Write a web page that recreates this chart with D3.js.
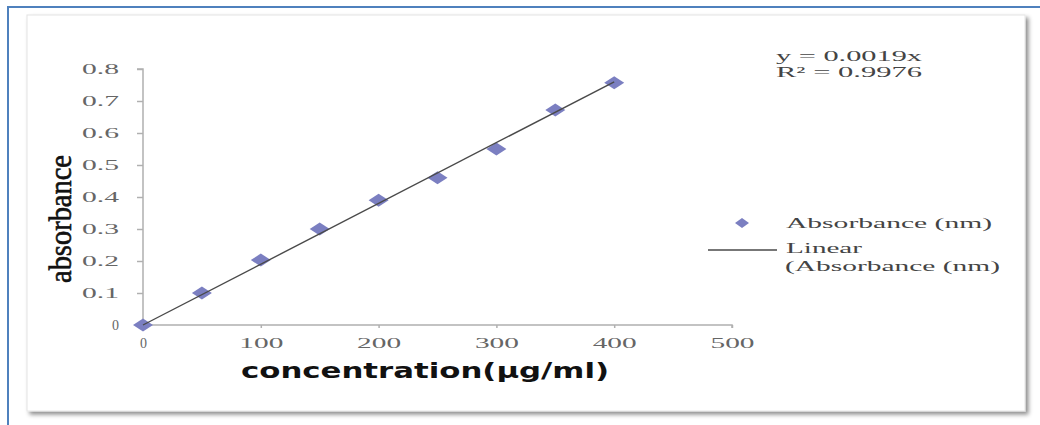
<!DOCTYPE html>
<html>
<head>
<meta charset="utf-8">
<script src="https://cdn.jsdelivr.net/npm/d3@7/dist/d3.min.js"></script>
<style>
  html, body { margin: 0; padding: 0; background: #fff; }
  svg { display: block; }
</style>
</head>
<body>
<svg id="chart" width="1040" height="425"></svg>
<script>
// Calibration data: concentration (µg/ml) vs absorbance
const concentration = [0, 50, 100, 150, 200, 250, 300, 350, 400];
const absorbance = [0, 0.10, 0.203, 0.30, 0.39, 0.46, 0.55, 0.672, 0.757];
const slope = 0.0019;          // linear fit through origin
const xTicks = [0, 100, 200, 300, 400, 500];
const yTicks = [0, 0.1, 0.2, 0.3, 0.4, 0.5, 0.6, 0.7, 0.8];
const equationLines = ["y = 0.0019x", "R\u00B2 = 0.9976"];
const legendLabels = ["Absorbance (nm)", "Linear", "(Absorbance (nm)"];

const svg = d3.select("#chart");

// Drop shadow for the chart panel
const defs = svg.append("defs");
const f = defs.append("filter").attr("id", "shadow")
  .attr("x", "-5%").attr("y", "-5%").attr("width", "110%").attr("height", "115%");
f.append("feDropShadow").attr("dx", 3).attr("dy", 3).attr("stdDeviation", 2)
  .attr("flood-color", "#000").attr("flood-opacity", 0.45);

// Outer frame (top and left edges)
svg.append("line").attr("x1", 8).attr("x2", 1040).attr("y1", 7).attr("y2", 7)
  .attr("stroke", "#4f81bd").attr("stroke-width", 2);
svg.append("line").attr("x1", 8).attr("x2", 8).attr("y1", 6).attr("y2", 425)
  .attr("stroke", "#4f81bd").attr("stroke-width", 2);

// Chart panel
svg.append("rect").attr("x", 27).attr("y", 15).attr("width", 998).attr("height", 396)
  .attr("fill", "#fff").attr("stroke", "#e4e4e4").attr("stroke-width", 1)
  .attr("filter", "url(#shadow)");

const x = d3.scaleLinear().domain([0, 500]).range([143, 732]);
const y = d3.scaleLinear().domain([0, 0.8]).range([325, 69]);

const axisColor = "#b0b0b0";
const tickColor = "#666";

// Y axis
const gy = svg.append("g").attr("transform", `translate(${x(0)},0)`)
  .call(d3.axisLeft(y).tickValues(yTicks).tickSize(6).tickPadding(18)
    .tickFormat(d => d === 0 ? "0" : d3.format(".1f")(d)));
gy.select(".domain").attr("stroke", axisColor).attr("stroke-width", 1.5)
  .attr("d", `M-6,${y(0.8)}H0V${y(0)}`);
gy.selectAll(".tick line").attr("stroke", axisColor).attr("stroke-width", 1.5);
gy.selectAll(".tick text")
  .attr("font-family", "Liberation Serif, serif").attr("font-size", 14)
  .attr("fill", tickColor)
  .each(function(d) {
    if (d !== 0) d3.select(this).attr("textLength", 37).attr("lengthAdjust", "spacingAndGlyphs");
  });

// X axis
const gx = svg.append("g").attr("transform", `translate(0,${y(0)})`)
  .call(d3.axisBottom(x).tickValues(xTicks).tickSize(3).tickPadding(10));
gx.select(".domain").attr("stroke", axisColor).attr("stroke-width", 1.5)
  .attr("d", `M${x(0)},0H${x(500)}V3`);
gx.selectAll(".tick line").attr("stroke", axisColor).attr("stroke-width", 1.5);
gx.selectAll(".tick text")
  .attr("font-family", "Liberation Serif, serif").attr("font-size", 14)
  .attr("fill", tickColor)
  .each(function(d) {
    if (d !== 0) d3.select(this).attr("textLength", 44).attr("lengthAdjust", "spacingAndGlyphs");
  });

// Axis titles
svg.append("text")
  .attr("transform", `translate(71,219) rotate(-90)`)
  .attr("text-anchor", "middle")
  .attr("font-family", "Liberation Serif, serif").attr("font-size", 31)
  .attr("font-weight", "normal").attr("fill", "#111")
  .attr("stroke", "#111").attr("stroke-width", 0.6)
  .attr("textLength", 128).attr("lengthAdjust", "spacingAndGlyphs")
  .text("absorbance");

svg.append("text")
  .attr("x", 425).attr("y", 378)
  .attr("text-anchor", "middle")
  .attr("font-family", "DejaVu Sans, sans-serif").attr("font-size", 21)
  .attr("font-weight", "bold").attr("fill", "#111")
  .attr("textLength", 368).attr("lengthAdjust", "spacingAndGlyphs")
  .text("concentration(\u00B5g/ml)");

// Data markers (flattened diamonds)
const markerColor = "#7b7fc1";
const diamond = "M-10,0L0,-6.5L10,0L0,6.5Z";
svg.append("g").selectAll("path").data(concentration).join("path")
  .attr("d", diamond)
  .attr("transform", (d, i) => `translate(${x(d)},${y(absorbance[i])})`)
  .attr("fill", markerColor);

// Linear trendline
const xmax = d3.max(concentration);
svg.append("path")
  .datum([0, xmax])
  .attr("d", d3.line().x(d => x(d)).y(d => y(slope * d)))
  .attr("stroke", "#4a4a4a").attr("stroke-width", 1.4).attr("fill", "none");

// Fit equation
const serif = "Liberation Serif, serif";
svg.append("g").selectAll("text").data(equationLines).join("text")
  .attr("x", 776).attr("y", (d, i) => 61 + i * 16)
  .attr("font-family", serif).attr("font-size", 14).attr("fill", "#444")
  .attr("textLength", 146).attr("lengthAdjust", "spacingAndGlyphs")
  .text(d => d);

// Legend
svg.append("path").attr("d", "M-7,0L0,-5L7,0L0,5Z")
  .attr("transform", "translate(742,223)").attr("fill", markerColor);
svg.append("line").attr("x1", 708).attr("x2", 777).attr("y1", 250).attr("y2", 250)
  .attr("stroke", "#4a4a4a").attr("stroke-width", 1.4);
const legendPos = [[786, 228, 206], [786, 253, 76], [785, 271, 215]];
svg.append("g").selectAll("text").data(legendLabels).join("text")
  .attr("x", (d, i) => legendPos[i][0]).attr("y", (d, i) => legendPos[i][1])
  .attr("font-family", serif).attr("font-size", 14).attr("fill", "#444")
  .attr("textLength", (d, i) => legendPos[i][2]).attr("lengthAdjust", "spacingAndGlyphs")
  .text(d => d);
</script>
</body>
</html>
